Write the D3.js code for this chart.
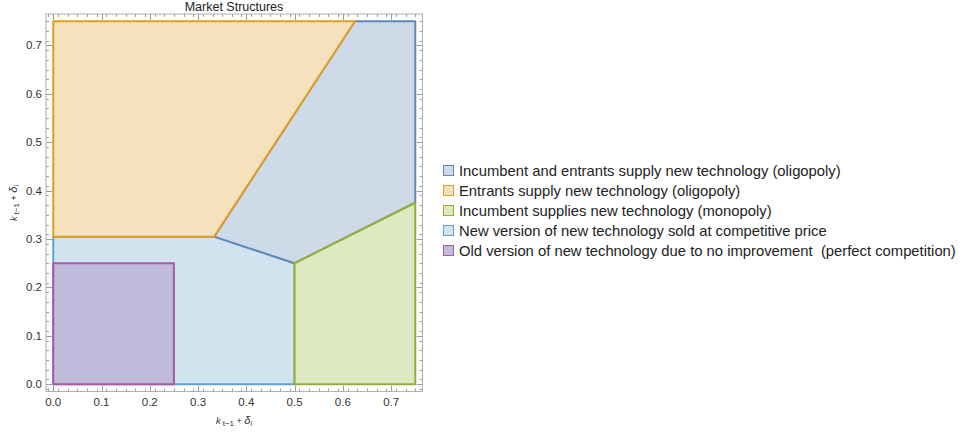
<!DOCTYPE html>
<html>
<head>
<meta charset="utf-8">
<script src="https://cdn.jsdelivr.net/npm/d3@7"></script>
<style>
body { margin: 0; background: #fff; }
svg { font-family: "Liberation Sans", Arial, sans-serif; }
</style>
</head>
<body>
<svg id="chart" width="964" height="434"></svg>
<script>
// region names (legend order) and their polygons in (x, y) data units
var labels = [
    "Incumbent and entrants supply new technology (oligopoly)",
    "Entrants supply new technology (oligopoly)",
    "Incumbent supplies new technology (monopoly)",
    "New version of new technology sold at competitive price",
    "Old version of new technology due to no improvement  (perfect competition)"
];
var strokes = ["#5f86bd", "#e19c24", "#8fb032", "#62a3d0", "#a95aa8"];
var fills = ["#cfdae8", "#f6e1bd", "#dde8c1", "#d1e3ef", "#c0badb"];

var oligopolyBoth = [[1/3, 0.305], [0.5, 0.25], [0.75, 0.375], [0.75, 0.75], [0.625, 0.75]];
var oligopolyEntrants = [[0, 0.305], [1/3, 0.305], [0.625, 0.75], [0, 0.75]];
var monopoly = [[0.5, 0], [0.75, 0], [0.75, 0.375], [0.5, 0.25]];
var competitive = [[0, 0], [0.5, 0], [0.5, 0.25], [1/3, 0.305], [0, 0.305]];
var noImprovement = [[0, 0], [0.25, 0], [0.25, 0.25], [0, 0.25]];
var regions = [oligopolyBoth, oligopolyEntrants, monopoly, competitive, noImprovement];

var majorTicks = [0, 0.1, 0.2, 0.3, 0.4, 0.5, 0.6, 0.7];
var minorTicks = d3.range(-0.01, 0.77, 0.02).map(d => +d.toFixed(2)).filter(d => d >= -0.015 && d <= 0.765);

var svg = d3.select("#chart");

var x = d3.scaleLinear().domain([-0.015, 0.765]).range([46, 422.5]);
var y = d3.scaleLinear().domain([-0.015, 0.765]).range([391.5, 14]);

// draw regions, competitive first so the purple square sits on top
var order = [3, 0, 1, 2, 4];
var line = d3.line().x(d => x(d[0])).y(d => y(d[1]));

svg.append("g")
.selectAll("path")
.data(order)
.enter().append("path")
.attr("d", i => line(regions[i]) + "Z")
.attr("fill", i => fills[i])
.attr("stroke", i => strokes[i])
.attr("stroke-width", 2)
.attr("stroke-linejoin", "round");

// frame
svg.append("rect")
.attr("x", x.range()[0])
.attr("y", y.range()[1])
.attr("width", x.range()[1] - x.range()[0])
.attr("height", y.range()[0] - y.range()[1])
.attr("fill", "none")
.attr("stroke", "#b0b0b0")
.attr("stroke-width", 1);

// ticks pointing inward on all four sides
function tickLines(vals, len) {
    var g = svg.append("g").attr("stroke", "#a0a0a0").attr("stroke-width", 1);
    var x0 = x.range()[0], x1 = x.range()[1], y0 = y.range()[0], y1 = y.range()[1];
    vals.forEach(function (v) {
        var px = Math.round(x(v)) + 0.5, py = Math.round(y(v)) + 0.5;
        g.append("line").attr("x1", px).attr("x2", px).attr("y1", y0).attr("y2", y0 - len);
        g.append("line").attr("x1", px).attr("x2", px).attr("y1", y1).attr("y2", y1 + len);
        g.append("line").attr("y1", py).attr("y2", py).attr("x1", x0).attr("x2", x0 + len);
        g.append("line").attr("y1", py).attr("y2", py).attr("x1", x1).attr("x2", x1 - len);
    });
}
tickLines(minorTicks, 3);
tickLines(majorTicks, 6);

svg.append("g")
.selectAll("text")
.data(majorTicks)
.enter().append("text")
.attr("x", d => x(d))
.attr("y", y.range()[0] + 14)
.attr("text-anchor", "middle")
.attr("font-size", 11.5)
.attr("fill", "#333")
.text(d3.format(".1f"));

svg.append("g")
.selectAll("text")
.data(majorTicks)
.enter().append("text")
.attr("x", x.range()[0] - 4)
.attr("y", d => y(d) + 4)
.attr("text-anchor", "end")
.attr("font-size", 11.5)
.attr("fill", "#333")
.text(d3.format(".1f"));

svg.append("text")
.attr("x", 234)
.attr("y", 11)
.attr("text-anchor", "middle")
.attr("font-size", 12.5)
.attr("fill", "#222")
.text("Market Structures");

// axis labels: k_{t-1} + delta_i
function axisLabel(g) {
    var t = g.append("text").attr("text-anchor", "middle").attr("font-size", 9).attr("fill", "#333");
    t.append("tspan").attr("font-style", "italic").text("k");
    t.append("tspan").attr("font-size", 8).attr("dy", 2).text(" t−1");
    t.append("tspan").attr("dy", -2).text(" + ");
    t.append("tspan").attr("font-style", "italic").attr("font-size", 11).text("δ");
    t.append("tspan").attr("font-size", 7).attr("dy", 2).text("i");
}
axisLabel(svg.append("g").attr("transform", "translate(234,424)"));
axisLabel(svg.append("g").attr("transform", "translate(17,203) rotate(-90)"));

// legend
var legend = svg.append("g")
.selectAll("g")
.data(labels)
.enter().append("g")
.attr("transform", (d, i) => `translate(443,${165 + i * 20})`);

legend.append("rect")
.attr("x", 0.5)
.attr("y", 0.5)
.attr("width", 10)
.attr("height", 10)
.attr("fill", (d, i) => fills[i])
.attr("stroke", (d, i) => strokes[i])
.attr("stroke-width", 1);

legend.append("text")
.attr("x", 16)
.attr("y", 11)
.attr("font-size", 14.8)
.attr("fill", "#222")
.style("white-space", "pre")
.text(d => d);
</script>
</body>
</html>
